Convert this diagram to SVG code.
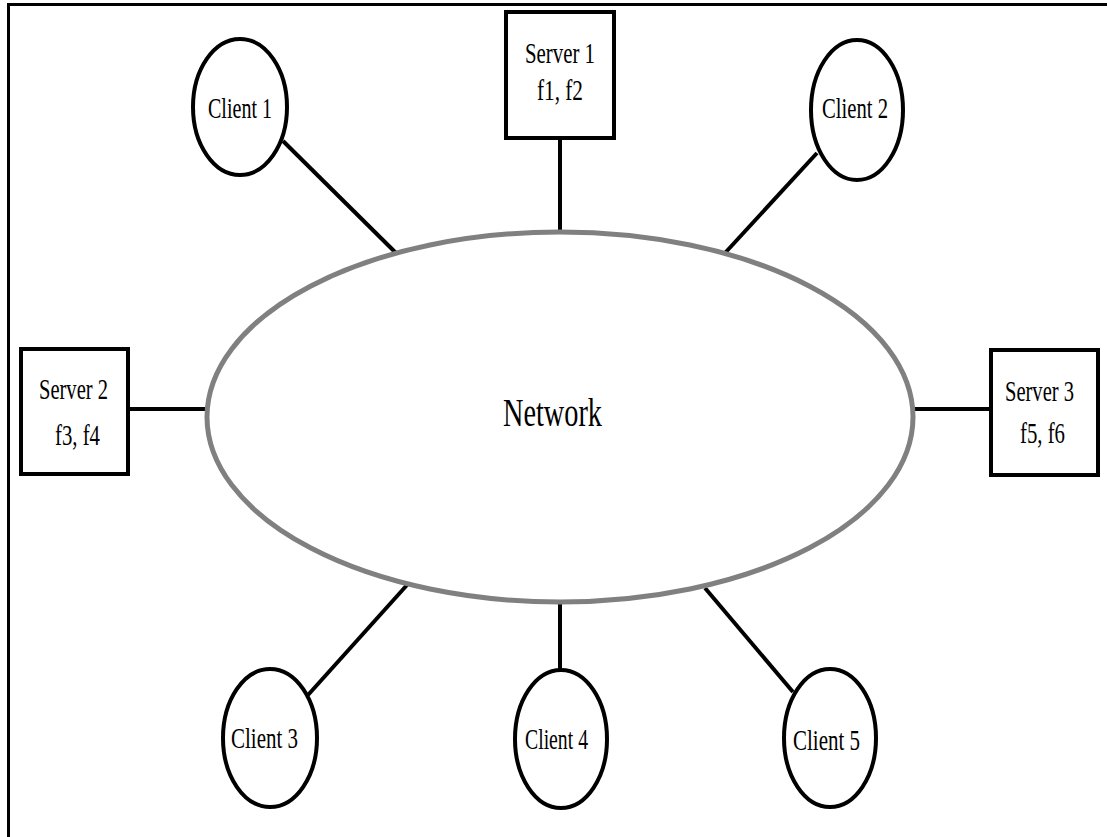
<svg xmlns="http://www.w3.org/2000/svg" width="1107" height="837" viewBox="0 0 1107 837">
<style>
.node{fill:#fff;stroke:#000;stroke-width:4}
.net{fill:#fff;stroke:#808080;stroke-width:5}
.conn line{stroke:#000;stroke-width:4}
text{font-family:"Liberation Serif","Times New Roman",serif;font-size:29px;fill:#000}
.big{font-size:39px}
</style>
<rect width="1107" height="837" fill="#fff"/>
<g id="frame" stroke="#000" stroke-width="3">
<line x1="7" y1="4.5" x2="1107" y2="4.5"/>
<line x1="8.5" y1="3" x2="8.5" y2="837"/>
</g>
<g class="conn" id="connectors">
<line x1="283" y1="141" x2="396" y2="253"/>
<line x1="560" y1="138" x2="560" y2="233"/>
<line x1="817" y1="153" x2="725" y2="253"/>
<line x1="128" y1="409" x2="208" y2="409"/>
<line x1="913" y1="409" x2="990" y2="409"/>
<line x1="308" y1="695" x2="407" y2="585"/>
<line x1="560" y1="602" x2="560" y2="670"/>
<line x1="793" y1="692" x2="705" y2="588"/>
</g>
<g id="network">
<ellipse class="net" cx="560" cy="417" rx="353" ry="185"/>
<text class="big" x="503" y="426" textLength="99" lengthAdjust="spacingAndGlyphs">Network</text>
</g>
<g id="client1">
<ellipse class="node" cx="240" cy="107" rx="47" ry="68"/>
<text x="208" y="118" textLength="64" lengthAdjust="spacingAndGlyphs">Client 1</text>
</g>
<g id="server1">
<rect class="node" x="506" y="12" width="108" height="126"/>
<text x="525" y="63" textLength="70" lengthAdjust="spacingAndGlyphs">Server 1</text>
<text x="537" y="100" textLength="46" lengthAdjust="spacingAndGlyphs">f1, f2</text>
</g>
<g id="client2">
<ellipse class="node" cx="857" cy="110" rx="46" ry="70"/>
<text x="822" y="118" textLength="66" lengthAdjust="spacingAndGlyphs">Client 2</text>
</g>
<g id="server2">
<rect class="node" x="21" y="349" width="107" height="125"/>
<text x="39" y="399" textLength="69" lengthAdjust="spacingAndGlyphs">Server 2</text>
<text x="55" y="445" textLength="45" lengthAdjust="spacingAndGlyphs">f3, f4</text>
</g>
<g id="server3">
<rect class="node" x="991" y="350" width="107" height="125"/>
<text x="1005" y="401" textLength="69" lengthAdjust="spacingAndGlyphs">Server 3</text>
<text x="1020" y="443" textLength="45" lengthAdjust="spacingAndGlyphs">f5, f6</text>
</g>
<g id="client3">
<ellipse class="node" cx="270" cy="738" rx="47" ry="69"/>
<text x="231" y="748" textLength="67" lengthAdjust="spacingAndGlyphs">Client 3</text>
</g>
<g id="client4">
<ellipse class="node" cx="561" cy="739" rx="46" ry="69"/>
<text x="525" y="749" textLength="63" lengthAdjust="spacingAndGlyphs">Client 4</text>
</g>
<g id="client5">
<ellipse class="node" cx="830" cy="738" rx="46" ry="69"/>
<text x="793" y="750" textLength="67" lengthAdjust="spacingAndGlyphs">Client 5</text>
</g>
</svg>
